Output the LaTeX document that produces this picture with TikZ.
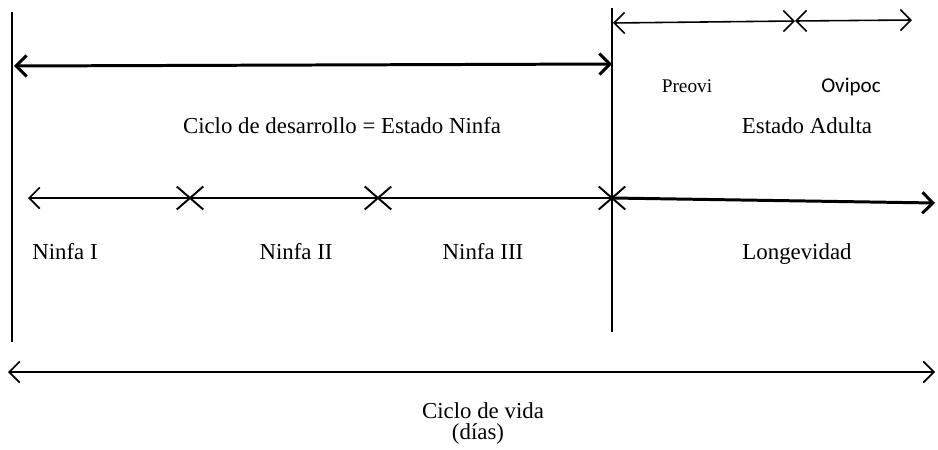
\documentclass[tikz,border=0pt]{standalone}
\usepackage{fontspec}
\setmainfont{Liberation Serif}
\newfontfamily\calibri{Carlito}
\usetikzlibrary{arrows.meta, shapes.misc}

\begin{document}
\begin{tikzpicture}[x=0.02cm, y=-0.02cm, >={Straight Barb[length=6pt, width=12pt]},
		txt/.style={font=\fontsize{13}{15}\selectfont, anchor=base},
		cruz/.style={cross out, draw, line width=1.1pt, minimum width=14pt, minimum height=12pt, inner sep=0pt}]
		\useasboundingbox (0, 0) rectangle (938, 450);
		% lineas verticales
		\coordinate (ini top) at (12, 12);
		\coordinate (ini bot) at (12, 342);
		\coordinate (adulto top) at (612, 8);
		\coordinate (adulto bot) at (612, 332);
		\draw[line width=1.7pt](ini top)--(ini bot);
		\draw[line width=0.9pt](adulto top)--(adulto bot);
		% ciclo de desarrollo
		\coordinate (des l) at (14, 66);
		\coordinate (des r) at (612, 64);
		\draw[line width=1.7pt, <->](des l)--(des r);
		\node[txt] (desarrollo) at (342, 133){Ciclo de desarrollo = Estado Ninfa};
		% estado adulto
		\coordinate (preovi l) at (613, 23);
		\coordinate (ovipoc l) at (795, 21);
		\coordinate (ovipoc r) at (912, 20);
		\draw[line width=0.9pt, <->](preovi l)--(ovipoc l);
		\draw[line width=0.9pt, <->](ovipoc l)--(ovipoc r);
		\node[txt, font=\fontsize{11}{13}\selectfont] (preovi) at (687, 92){Preovi};
		\node[txt, font=\calibri\fontsize{12}{14}\selectfont] (ovipoc) at (851, 92){Ovipoc};
		\node[txt] (adulta) at (807, 133){Estado Adulta};
		% ninfas y longevidad
		\node[cruz] (x1) at (190, 198){};
		\node[cruz] (x2) at (378, 198){};
		\node[cruz] (x3) at (612, 198){};
		\coordinate (ninfa l) at (28, 198);
		\coordinate (longev r) at (935, 203);
		\draw[line width=1pt, <-](ninfa l)--(x1.center)--(x2.center)--(x3.center);
		\draw[line width=1.7pt, ->](x3.center)--(longev r);
		\node[txt] (ninfa1) at (65, 259){Ninfa I};
		\node[txt] (ninfa2) at (296, 259){Ninfa II};
		\node[txt] (ninfa3) at (483, 259){Ninfa III};
		\node[txt] (longevidad) at (797, 259){Longevidad};
		% ciclo de vida
		\coordinate (vida l) at (8, 372);
		\coordinate (vida r) at (935, 372);
		\draw[line width=1pt, <->](vida l)--(vida r);
		\node[txt] (vida) at (483, 418){Ciclo de vida};
		\node[txt] (dias) at (478, 439){(días)};
	\end{tikzpicture}
\end{document}
